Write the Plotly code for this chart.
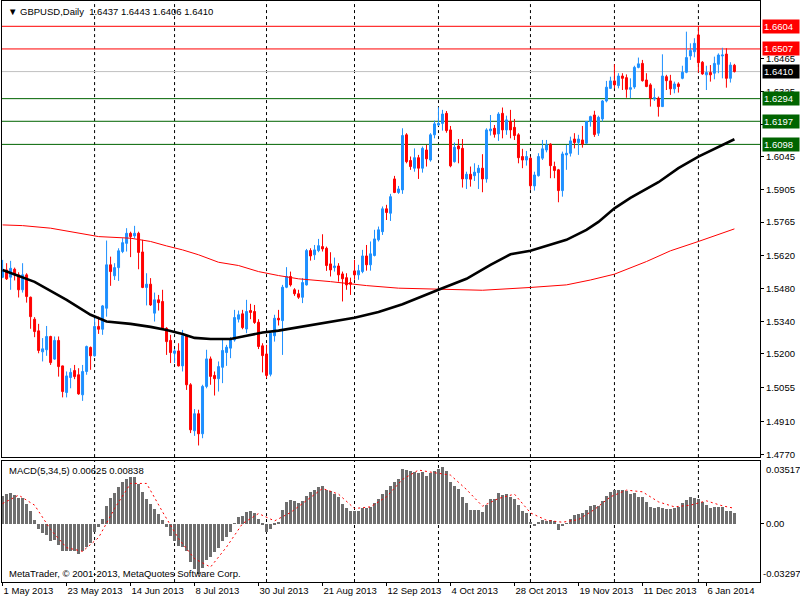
import plotly.graph_objects as go

# GBPUSD daily, 1 May 2013 .. 15 Jan 2014 (one entry per trading day)
opens = [
    1.5529, 1.5560, 1.5529, 1.5563, 1.5539, 1.5475, 1.5539, 1.5443, 1.5349, 1.5299,
    1.5209, 1.5218, 1.5275, 1.5178, 1.5258, 1.5149, 1.5035, 1.5099, 1.5129, 1.5111,
    1.5025, 1.5125, 1.5228, 1.5192, 1.5318, 1.5306, 1.5396, 1.5582, 1.5535, 1.5570,
    1.5639, 1.5674, 1.5717, 1.5706, 1.5717, 1.5637, 1.5485, 1.5499, 1.5375, 1.5432,
    1.5425, 1.5310, 1.5258, 1.5203, 1.5213, 1.5149, 1.5278, 1.5068, 1.4871, 1.4944,
    1.4858, 1.5061, 1.5179, 1.5108, 1.5094, 1.5143, 1.5206, 1.5225, 1.5260, 1.5349,
    1.5372, 1.5307, 1.5386, 1.5382, 1.5336, 1.5235, 1.5200, 1.5113, 1.5278, 1.5353,
    1.5343, 1.5486, 1.5532, 1.5475, 1.5458, 1.5443, 1.5496, 1.5643, 1.5625, 1.5643,
    1.5660, 1.5653, 1.5586, 1.5570, 1.5577, 1.5543, 1.5527, 1.5506, 1.5556, 1.5539,
    1.5553, 1.5620, 1.5582, 1.5622, 1.5689, 1.5724, 1.5822, 1.5803, 1.5950, 1.5892,
    1.5903, 1.6139, 1.6029, 1.5996, 1.6041, 1.5996, 1.6074, 1.6031, 1.6139, 1.6181,
    1.6188, 1.6231, 1.6160, 1.6024, 1.6091, 1.6081, 1.5950, 1.5970, 1.5964, 1.5977,
    1.5996, 1.5950, 1.6156, 1.6167, 1.6143, 1.6231, 1.6160, 1.6196, 1.6171, 1.6139,
    1.6046, 1.6031, 1.6039, 1.5920, 1.5964, 1.6039, 1.6074, 1.6099, 1.6003, 1.5989,
    1.5900, 1.6053, 1.6060, 1.6121, 1.6106, 1.6117, 1.6103, 1.6196, 1.6224, 1.6146,
    1.6207, 1.6284, 1.6338, 1.6370, 1.6350, 1.6391, 1.6384, 1.6334, 1.6344, 1.6428,
    1.6445, 1.6374, 1.6353, 1.6293, 1.6296, 1.6260, 1.6388, 1.6370, 1.6336, 1.6357,
    1.6381, 1.6407, 1.6477, 1.6495, 1.6567, 1.6450, 1.6396, 1.6406, 1.6403, 1.6441,
    1.6477, 1.6485, 1.6381, 1.6437,
]
highs = [
    1.5603, 1.5589, 1.5599, 1.5570, 1.5550, 1.5589, 1.5546, 1.5446, 1.5358, 1.5329,
    1.5268, 1.5320, 1.5278, 1.5275, 1.5275, 1.5150, 1.5125, 1.5139, 1.5153, 1.5139,
    1.5153, 1.5236, 1.5232, 1.5353, 1.5360, 1.5410, 1.5686, 1.5617, 1.5589, 1.5653,
    1.5696, 1.5739, 1.5724, 1.5749, 1.5724, 1.5689, 1.5546, 1.5525, 1.5463, 1.5453,
    1.5475, 1.5315, 1.5282, 1.5221, 1.5246, 1.5303, 1.5282, 1.5075, 1.4964, 1.4961,
    1.5068, 1.5218, 1.5189, 1.5125, 1.5168, 1.5260, 1.5239, 1.5272, 1.5389, 1.5386,
    1.5389, 1.5432, 1.5415, 1.5410, 1.5349, 1.5246, 1.5239, 1.5292, 1.5368, 1.5389,
    1.5496, 1.5572, 1.5553, 1.5482, 1.5475, 1.5525, 1.5650, 1.5653, 1.5667, 1.5693,
    1.5713, 1.5660, 1.5636, 1.5613, 1.5589, 1.5553, 1.5546, 1.5527, 1.5603, 1.5582,
    1.5646, 1.5667, 1.5682, 1.5732, 1.5746, 1.5832, 1.5839, 1.5886, 1.5963, 1.5920,
    1.6167, 1.6146, 1.6046, 1.6081, 1.6053, 1.6089, 1.6096, 1.6146, 1.6200, 1.6257,
    1.6246, 1.6241, 1.6177, 1.6106, 1.6121, 1.6121, 1.5981, 1.6003, 1.6017, 1.6010,
    1.6056, 1.6167, 1.6224, 1.6181, 1.6236, 1.6256, 1.6221, 1.6246, 1.6207, 1.6146,
    1.6079, 1.6070, 1.6046, 1.5981, 1.6060, 1.6117, 1.6117, 1.6103, 1.6024, 1.5993,
    1.6067, 1.6096, 1.6131, 1.6146, 1.6139, 1.6177, 1.6198, 1.6221, 1.6242, 1.6221,
    1.6288, 1.6370, 1.6388, 1.6441, 1.6403, 1.6403, 1.6398, 1.6381, 1.6435, 1.6470,
    1.6460, 1.6403, 1.6360, 1.6338, 1.6303, 1.6484, 1.6396, 1.6396, 1.6367, 1.6364,
    1.6435, 1.6581, 1.6531, 1.6553, 1.6604, 1.6455, 1.6435, 1.6438, 1.6474, 1.6488,
    1.6512, 1.6510, 1.6450, 1.6443,
]
lows = [
    1.5525, 1.5517, 1.5475, 1.5515, 1.5442, 1.5463, 1.5420, 1.5308, 1.5272, 1.5203,
    1.5168, 1.5192, 1.5153, 1.5175, 1.5103, 1.5014, 1.5014, 1.5053, 1.5092, 1.5025,
    1.4999, 1.5111, 1.5132, 1.5189, 1.5286, 1.5282, 1.5360, 1.5492, 1.5517, 1.5513,
    1.5632, 1.5639, 1.5615, 1.5696, 1.5563, 1.5482, 1.5408, 1.5406, 1.5339, 1.5386,
    1.5303, 1.5196, 1.5161, 1.5161, 1.5146, 1.5125, 1.5046, 1.4861, 1.4849, 1.4808,
    1.4839, 1.5053, 1.5068, 1.5022, 1.5039, 1.5075, 1.5149, 1.5182, 1.5253, 1.5335,
    1.5306, 1.5289, 1.5349, 1.5329, 1.5221, 1.5121, 1.5096, 1.5104, 1.5253, 1.5322,
    1.5196, 1.5482, 1.5489, 1.5449, 1.5436, 1.5418, 1.5493, 1.5600, 1.5603, 1.5636,
    1.5639, 1.5556, 1.5532, 1.5553, 1.5510, 1.5425, 1.5475, 1.5453, 1.5518, 1.5518,
    1.5546, 1.5557, 1.5557, 1.5618, 1.5682, 1.5710, 1.5774, 1.5770, 1.5889, 1.5886,
    1.5886, 1.6017, 1.5989, 1.5981, 1.5950, 1.5977, 1.6003, 1.6024, 1.6124, 1.6177,
    1.6157, 1.6148, 1.6000, 1.6020, 1.6017, 1.5913, 1.5907, 1.5917, 1.5941, 1.5907,
    1.5893, 1.5934, 1.6136, 1.6127, 1.6113, 1.6124, 1.6139, 1.6124, 1.6117, 1.6017,
    1.5996, 1.6007, 1.5903, 1.5900, 1.5960, 1.6031, 1.6064, 1.5953, 1.5953, 1.5850,
    1.5874, 1.5989, 1.6046, 1.6081, 1.6053, 1.6084, 1.6099, 1.6174, 1.6130, 1.6134,
    1.6196, 1.6278, 1.6336, 1.6338, 1.6338, 1.6331, 1.6298, 1.6296, 1.6336, 1.6424,
    1.6367, 1.6343, 1.6260, 1.6284, 1.6217, 1.6258, 1.6331, 1.6310, 1.6317, 1.6320,
    1.6377, 1.6403, 1.6460, 1.6471, 1.6406, 1.6396, 1.6331, 1.6367, 1.6377, 1.6403,
    1.6381, 1.6341, 1.6363, 1.6406,
]
closes = [
    1.5560, 1.5522, 1.5567, 1.5539, 1.5475, 1.5539, 1.5446, 1.5360, 1.5296, 1.5215,
    1.5222, 1.5275, 1.5163, 1.5258, 1.5146, 1.5039, 1.5106, 1.5121, 1.5103, 1.5029,
    1.5125, 1.5232, 1.5192, 1.5318, 1.5306, 1.5406, 1.5582, 1.5553, 1.5570, 1.5642,
    1.5677, 1.5717, 1.5703, 1.5717, 1.5635, 1.5485, 1.5499, 1.5410, 1.5432, 1.5420,
    1.5310, 1.5253, 1.5206, 1.5213, 1.5149, 1.5279, 1.5068, 1.4875, 1.4944, 1.4858,
    1.5061, 1.5179, 1.5104, 1.5094, 1.5146, 1.5215, 1.5229, 1.5260, 1.5356, 1.5368,
    1.5313, 1.5382, 1.5378, 1.5335, 1.5232, 1.5193, 1.5108, 1.5289, 1.5353, 1.5346,
    1.5486, 1.5532, 1.5496, 1.5458, 1.5443, 1.5506, 1.5643, 1.5620, 1.5646, 1.5664,
    1.5650, 1.5579, 1.5560, 1.5577, 1.5539, 1.5522, 1.5496, 1.5499, 1.5539, 1.5557,
    1.5620, 1.5582, 1.5629, 1.5693, 1.5732, 1.5822, 1.5806, 1.5874, 1.5892, 1.5907,
    1.6136, 1.6024, 1.6003, 1.6041, 1.5996, 1.6081, 1.6036, 1.6139, 1.6186, 1.6188,
    1.6228, 1.6157, 1.6006, 1.6086, 1.6079, 1.5950, 1.5970, 1.5949, 1.5979, 1.5996,
    1.5950, 1.6160, 1.6164, 1.6141, 1.6228, 1.6160, 1.6203, 1.6160, 1.6136, 1.6041,
    1.6031, 1.6046, 1.5921, 1.5967, 1.6046, 1.6079, 1.6096, 1.6007, 1.5986, 1.5900,
    1.6057, 1.6060, 1.6113, 1.6106, 1.6121, 1.6099, 1.6196, 1.6217, 1.6140, 1.6214,
    1.6284, 1.6343, 1.6370, 1.6353, 1.6391, 1.6381, 1.6334, 1.6341, 1.6428, 1.6443,
    1.6371, 1.6346, 1.6296, 1.6298, 1.6260, 1.6391, 1.6371, 1.6336, 1.6357, 1.6346,
    1.6407, 1.6470, 1.6500, 1.6531, 1.6448, 1.6400, 1.6406, 1.6396, 1.6445, 1.6481,
    1.6481, 1.6381, 1.6438, 1.6410,
]

# moving averages (bar index, price)
ma_black_bars = [0, 8, 16, 22, 26, 32, 37, 41, 45, 48, 52, 57, 61, 65, 69, 74, 82, 88, 94,
                 100, 109, 116, 122, 127, 132, 137, 141, 146, 149, 153, 157, 164, 169, 174, 179, 183]
ma_black = [1.5560, 1.5509, 1.5432, 1.5368, 1.5339, 1.5329, 1.5316, 1.5303, 1.5286, 1.5269,
            1.5264, 1.5264, 1.5278, 1.5292, 1.5300, 1.5315, 1.5338, 1.5355, 1.5380,
            1.5413, 1.5475, 1.5522, 1.5582, 1.5627, 1.5642, 1.5667, 1.5689, 1.5732, 1.5766,
            1.5824, 1.5869, 1.5936, 1.5996, 1.6046, 1.6088, 1.6120]
ma_red_bars = [0, 5, 12, 20, 24, 32, 37, 41, 45, 49, 54, 59, 64, 69, 74, 82, 91, 99,
               109, 120, 132, 141, 147, 153, 161, 167, 174, 183]
ma_red = [1.5753, 1.5750, 1.5739, 1.5717, 1.5703, 1.5696, 1.5682, 1.5663, 1.5646, 1.5625,
          1.5593, 1.5579, 1.5553, 1.5536, 1.5522, 1.5510, 1.5493, 1.5482,
          1.5478, 1.5473, 1.5485, 1.5496, 1.5517, 1.5542, 1.5596, 1.5642, 1.5682, 1.5736]

# MACD(5,34,5) histogram, one value per bar
macd_hist = [
    0.01577, 0.01671, 0.01708, 0.01633, 0.01427, 0.01427, 0.01107, 0.00732, 0.00206, -0.00300,
    -0.00544, -0.00619, -0.00995, -0.00920, -0.01183, -0.01520, -0.01558, -0.01558, -0.01558, -0.01708,
    -0.01520, -0.01295, -0.01107, -0.00488, -0.00169, 0.00263, 0.01014, 0.01445, 0.01727, 0.02083,
    0.02327, 0.02515, 0.02609, 0.02609, 0.02234, 0.01764, 0.01389, 0.01107, 0.00826, 0.00544,
    0.00206, -0.00169, -0.00676, -0.00995, -0.01239, -0.01333, -0.01520, -0.02177, -0.02553, -0.02797,
    -0.02459, -0.02046, -0.01858, -0.01614, -0.01370, -0.00957, -0.00732, -0.00450, 0.00019, 0.00357,
    0.00413, 0.00638, 0.00694, 0.00582, 0.00263, -0.00019, -0.00488, -0.00300, -0.00056, 0.00075,
    0.00770, 0.01201, 0.01333, 0.01295, 0.01145, 0.01258, 0.01539, 0.01764, 0.01896, 0.02046,
    0.02102, 0.01896, 0.01858, 0.01671, 0.01483, 0.01107, 0.00882, 0.00732, 0.00694, 0.00694,
    0.00882, 0.00882, 0.00957, 0.01145, 0.01389, 0.01671, 0.01896, 0.02140, 0.02327, 0.02515,
    0.03078, 0.03022, 0.02984, 0.02891, 0.02834, 0.02891, 0.02703, 0.02834, 0.02947, 0.03078,
    0.03172, 0.02984, 0.02327, 0.02140, 0.01952, 0.01483, 0.01145, 0.00788, 0.00788, 0.00788,
    0.00638, 0.01070, 0.01389, 0.01389, 0.01708, 0.01633, 0.01671, 0.01520, 0.01389, 0.01051,
    0.00732, 0.00582, 0.00113, -0.00113, 0.00075, 0.00206, 0.00169, 0.00206, 0.00131, -0.00338,
    -0.00113, 0.00019, 0.00263, 0.00507, 0.00544, 0.00582, 0.00788, 0.01014, 0.01070, 0.01014,
    0.01295, 0.01577, 0.01764, 0.01896, 0.01896, 0.01896, 0.01821, 0.01671, 0.01708, 0.01520,
    0.01483, 0.01201, 0.00957, 0.00882, 0.00920, 0.00882, 0.00826, 0.00826, 0.00882, 0.00920,
    0.01145, 0.01333, 0.01520, 0.01427, 0.01389, 0.01201, 0.01070, 0.00882, 0.00920, 0.00957,
    0.00957, 0.00732, 0.00732, 0.00625,
]
signal_bars = [0, 4, 8, 12, 16, 20, 24, 28, 32, 36, 40, 44, 48, 52, 56, 60, 64, 68, 72, 76,
               80, 84, 88, 92, 96, 100, 104, 108, 112, 116, 120, 124, 128, 132, 136, 140, 144,
               148, 152, 156, 160, 164, 168, 172, 176, 180, 183]
signal = [0.01107, 0.01577, 0.01014, -0.00357, -0.01370, -0.01577, -0.00807, 0.00826, 0.02234,
          0.02234, 0.00638, -0.00863, -0.01990, -0.02459, -0.01333, -0.00019, 0.00544, 0.00131,
          0.00601, 0.01295, 0.01952, 0.01633, 0.00826, 0.00920, 0.01483, 0.02459, 0.02984,
          0.02834, 0.02703, 0.01896, 0.00957, 0.01389, 0.01633, 0.00582, 0.00169, 0.00056,
          0.00206, 0.00770, 0.01483, 0.01858, 0.01764, 0.01201, 0.00920, 0.01014, 0.01258,
          0.00976, 0.00838]

date_tick_bars = [0, 16, 32, 48, 64, 80, 96, 112, 128, 144, 160, 176]
date_labels = ["1 May 2013", "23 May 2013", "14 Jun 2013", "8 Jul 2013", "30 Jul 2013",
               "21 Aug 2013", "12 Sep 2013", "4 Oct 2013", "28 Oct 2013", "19 Nov 2013",
               "11 Dec 2013", "6 Jan 2014"]
month_start_bars = [23, 43, 66, 88, 109, 132, 153, 174]
price_ticks = [1.6465, 1.6325, 1.6185, 1.6045, 1.5905, 1.5765, 1.5620, 1.5480,
               1.5340, 1.5200, 1.5055, 1.4910, 1.4770]

# horizontal levels
red_levels = [1.6604, 1.6507]
green_levels = [1.6294, 1.6197, 1.6098]
last_price = 1.6410

BLUE = "#1e90ff"
RED = "#ff0000"
GREEN = "#006400"
FONT = "Liberation Sans"

bars = list(range(len(opens)))

fig = go.Figure()

fig.add_trace(go.Candlestick(
    x=bars, open=opens, high=highs, low=lows, close=closes,
    increasing=dict(line=dict(color=BLUE, width=1), fillcolor=BLUE),
    decreasing=dict(line=dict(color=RED, width=1), fillcolor=RED),
    whiskerwidth=0, showlegend=False, hoverinfo="skip",
    xaxis="x", yaxis="y"))

fig.add_trace(go.Scatter(x=ma_red_bars, y=ma_red, mode="lines",
                         line=dict(color=RED, width=1), showlegend=False,
                         hoverinfo="skip", xaxis="x", yaxis="y"))
fig.add_trace(go.Scatter(x=ma_black_bars, y=ma_black, mode="lines",
                         line=dict(color="black", width=2.6), showlegend=False,
                         hoverinfo="skip", xaxis="x", yaxis="y"))

fig.add_trace(go.Bar(x=bars, y=macd_hist, width=0.72,
                     marker=dict(color="#6e6e6e", line=dict(width=0)),
                     showlegend=False, hoverinfo="skip", xaxis="x2", yaxis="y2"))
fig.add_trace(go.Scatter(x=signal_bars, y=signal, mode="lines",
                         line=dict(color=RED, width=1, dash="2px,3px"), showlegend=False,
                         hoverinfo="skip", xaxis="x2", yaxis="y2"))

shapes = []
# month separators in both panels
for b in month_start_bars:
    for yr in ("y domain", "y2 domain"):
        shapes.append(dict(type="line", xref="x", yref=yr, x0=b, x1=b, y0=0, y1=1,
                           line=dict(color="black", width=1, dash="3px,3px"), layer="below"))
for p in red_levels:
    shapes.append(dict(type="line", xref="paper", yref="y", x0=0, x1=1, y0=p, y1=p,
                       line=dict(color=RED, width=1), layer="below"))
for p in green_levels:
    shapes.append(dict(type="line", xref="paper", yref="y", x0=0, x1=1, y0=p, y1=p,
                       line=dict(color=GREEN, width=1), layer="below"))
shapes.append(dict(type="line", xref="paper", yref="y", x0=0, x1=1, y0=last_price, y1=last_price,
                   line=dict(color="#c0c0c0", width=1), layer="below"))

annotations = []
def price_box(p, bg):
    return dict(xref="paper", yref="y", x=1, y=p, xanchor="left", yanchor="middle",
                xshift=2, text="%.4f" % p, showarrow=False, bgcolor=bg, width=34,
                align="left", borderpad=1, font=dict(family=FONT, size=9.5, color="white"))
for p in red_levels:
    annotations.append(price_box(p, RED))
for p in green_levels:
    annotations.append(price_box(p, GREEN))
annotations.append(price_box(last_price, "black"))

annotations.append(dict(xref="paper", yref="paper", x=0, y=1, xanchor="left", yanchor="top",
                        xshift=4, yshift=-3, showarrow=False,
                        text="▼ GBPUSD,Daily  1.6437 1.6443 1.6406 1.6410",
                        font=dict(family=FONT, size=9.5, color="black")))
annotations.append(dict(xref="paper", yref="y2 domain", x=0, y=1, xanchor="left", yanchor="top",
                        xshift=5, yshift=-2, showarrow=False,
                        text="MACD(5,34,5) 0.00625 0.00838",
                        font=dict(family=FONT, size=9.5, color="black")))
annotations.append(dict(xref="paper", yref="y2 domain", x=0, y=0, xanchor="left", yanchor="bottom",
                        xshift=5, yshift=1, showarrow=False,
                        text="MetaTrader, © 2001-2013, MetaQuotes Software Corp.",
                        font=dict(family=FONT, size=9.5, color="black")))
annotations.append(dict(xref="paper", yref="y2 domain", x=1, y=1, xanchor="left", yanchor="top",
                        xshift=4, yshift=-1, showarrow=False, text="0.03517",
                        font=dict(family=FONT, size=9.5, color="black")))
annotations.append(dict(xref="paper", yref="y2 domain", x=1, y=0, xanchor="left", yanchor="bottom",
                        xshift=1, yshift=1, showarrow=False, text="-0.03297",
                        font=dict(family=FONT, size=9.5, color="black")))

axis_common = dict(showline=True, linecolor="black", linewidth=1, mirror=True,
                   showgrid=False, zeroline=False)

fig.update_layout(
    width=800, height=600,
    margin=dict(l=2, r=40, t=1, b=18),
    paper_bgcolor="white", plot_bgcolor="white",
    font=dict(family=FONT, size=9.5, color="black"),
    showlegend=False,
    shapes=shapes, annotations=annotations,
    xaxis=dict(range=[-0.15, 189.4], domain=[0, 1], anchor="y", showticklabels=False,
               ticks="", rangeslider=dict(visible=False), matches="x2", **axis_common),
    yaxis=dict(range=[1.47582, 1.67124], domain=[0.215, 1], side="right", anchor="x",
               tickvals=price_ticks, ticktext=["%.4f" % t for t in price_ticks],
               ticks="outside", ticklen=3, tickcolor="black", **axis_common),
    xaxis2=dict(range=[-0.15, 189.4], domain=[0, 1], anchor="y2",
                tickvals=date_tick_bars, ticktext=date_labels,
                ticklabelposition="outside right",
                ticks="outside", ticklen=3, tickcolor="black", **axis_common),
    yaxis2=dict(range=[-0.03297, 0.03517], domain=[0, 0.209], side="right", anchor="x2",
                tickvals=[0], ticktext=["0.00"],
                ticks="outside", ticklen=3, tickcolor="black", **axis_common),
    bargap=0,
)

# the page body has an 8px default margin; drop it so the 800x600 figure fills the window
fig.write_html("out.html", config=dict(displayModeBar=False),
               post_script="document.body.style.margin='0';document.body.style.overflow='hidden';")
